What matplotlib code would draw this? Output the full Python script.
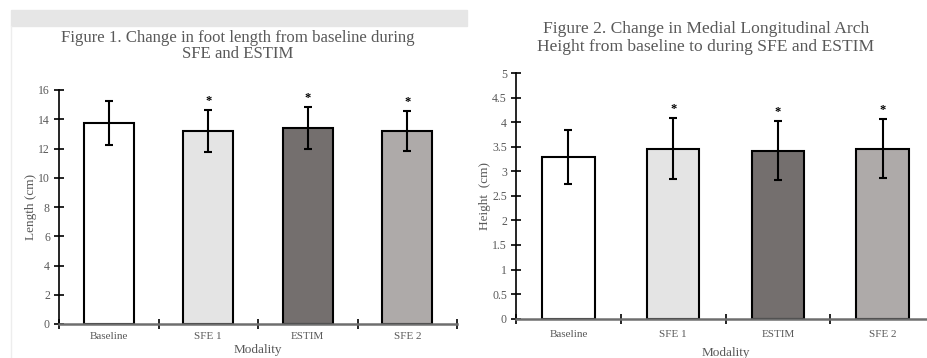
import matplotlib
matplotlib.use('Agg')
import matplotlib.pyplot as plt
from matplotlib.patches import Rectangle

categories = ['Baseline', 'SFE 1', 'ESTIM', 'SFE 2']
bar_colors = ['#ffffff', '#e4e4e4', '#746f6e', '#aeaaa9']

length_mean = [13.75, 13.2, 13.4, 13.2]
length_err = [1.5, 1.42, 1.45, 1.35]
height_mean = [3.29, 3.46, 3.42, 3.46]
height_err = [0.55, 0.62, 0.6, 0.6]
significant = [False, True, True, True]

plt.rcParams['font.family'] = ['Liberation Serif', 'DejaVu Serif']
txt = '#595959'

W, H = 927, 358
fig = plt.figure(figsize=(W / 100, H / 100), dpi=100)

# grey strip from the screenshot at the top
fig.patches.append(Rectangle((11 / W, 1 - 26 / H), 456 / W, 16 / H,
                             transform=fig.transFigure, color='#e6e6e6', zorder=0))
fig.add_artist(plt.Line2D([11 / W, 11 / W], [0, 1 - 26 / H], transform=fig.transFigure,
                          color='#ededed', lw=1))


def draw(ax, means, errs, ymax, step, ylabel, fmt, xpad, tickpad):
    x = list(range(len(categories)))
    ax.bar(x, means, width=0.5, color=bar_colors, edgecolor='black', linewidth=1.5, zorder=2)
    ax.errorbar(x, means, yerr=errs, fmt='none', ecolor='black', elinewidth=1.5,
                capsize=3, capthick=1.5, zorder=3)
    for xi, m, e, s in zip(x, means, errs, significant):
        if s:
            ax.annotate('*', (xi, m + e), xytext=(0, 2), textcoords='offset points',
                        ha='center', va='bottom', fontsize=9, fontweight='bold', color='black')
    ax.set_xlim(-0.5, len(categories) - 0.5)
    ax.set_ylim(0, ymax)
    ticks = [i * step for i in range(int(round(ymax / step)) + 1)]
    ax.set_yticks(ticks)
    ax.set_yticklabels([fmt(t) for t in ticks])
    ax.set_xticks([i - 0.5 for i in range(len(categories) + 1)])
    ax.set_xticklabels([])
    ax.set_xticks(x, minor=True)
    ax.set_xticklabels(categories, minor=True)
    ax.tick_params(axis='x', which='major', direction='inout', length=7, width=1.2, color='black')
    ax.tick_params(axis='x', which='minor', length=0, pad=tickpad, labelsize=8, labelcolor=txt)
    ax.tick_params(axis='y', direction='inout', length=7, width=1.2, color='black',
                   labelsize=8.5, labelcolor=txt, pad=3)
    for sp in ['top', 'right']:
        ax.spines[sp].set_visible(False)
    ax.spines['left'].set_linewidth(1.2)
    ax.spines['bottom'].set_color('#6e6e6e')
    ax.spines['bottom'].set_linewidth(1.8)
    ax.set_ylabel(ylabel, fontsize=9.5, color=txt, labelpad=1)
    ax.set_xlabel('Modality', fontsize=9.5, color=txt, labelpad=xpad)


ax1 = fig.add_axes([59 / W, 34 / H, 398 / W, 234 / H])
draw(ax1, length_mean, length_err, 16, 2, 'Length (cm)', lambda t: '%d' % t, 2, 6)
fig.text(238 / W, 1 - 46 / H, 'Figure 1. Change in foot length from baseline during\nSFE and ESTIM',
         ha='center', va='center', fontsize=12.1, color=txt, linespacing=1.05)

ax2 = fig.add_axes([516 / W, 39.3 / H, 419 / W, 245.7 / H])
draw(ax2, height_mean, height_err, 5, 0.5, 'Height  (cm)', lambda t: ('%g' % t), 6, 8)
fig.text(706 / W, 1 - 38 / H, 'Figure 2. Change in Medial Longitudinal Arch\nHeight from baseline to during SFE and ESTIM',
         ha='center', va='center', fontsize=12.6, color=txt, linespacing=1.15)

fig.savefig('out.png', dpi=100, facecolor='white')
